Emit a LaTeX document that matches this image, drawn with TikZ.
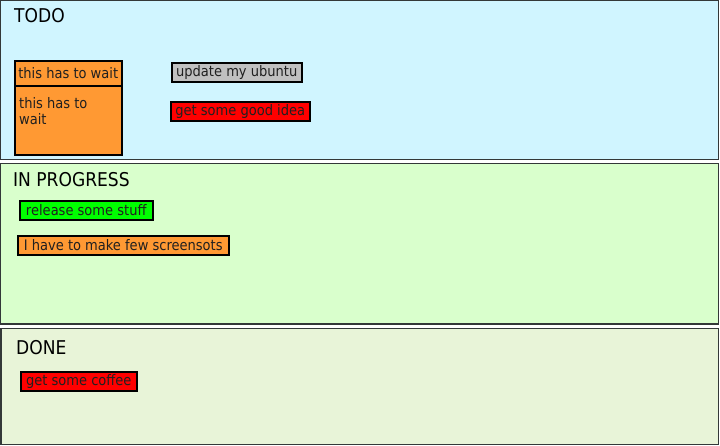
\documentclass[tikz,border=0pt]{standalone}
\usepackage{fontspec}
\setmainfont{DejaVu Sans Condensed}
\definecolor{todofill}{HTML}{D0F5FF}
\definecolor{progfill}{HTML}{D9FFCC}
\definecolor{donefill}{HTML}{E8F4D8}
\definecolor{panelborder}{HTML}{333838}
\definecolor{cardorange}{HTML}{FF9933}
\definecolor{cardgray}{HTML}{C0C0C0}
\definecolor{cardred}{HTML}{FF0000}
\definecolor{cardgreen}{HTML}{00FF00}
\definecolor{cardtext}{HTML}{202020}
\tikzset{
  panel/.style={draw=panelborder, line width=1.3pt},
  paneltitle/.style={anchor=base west, inner sep=0pt, font=\fontsize{19}{22}\selectfont},
  card/.style={draw=black, line width=1.5pt, anchor=north west, inner sep=0pt,
    font=\fontsize{14.5}{16.5}\selectfont, text=cardtext},
}
\begin{document}
\begin{tikzpicture}[x=1pt,y=-1pt]
\useasboundingbox (0,0) rectangle (720,445);
% panels
\draw[panel, fill=todofill] (0.7,0.7) rectangle (718.3,159.5);
\draw[panel, fill=progfill] (0.7,163.3) rectangle (718.3,324);
\draw[panel, fill=donefill] (1,328.5) rectangle (718.3,444.3);
\node[paneltitle] (tTodo) at (14,22) {TODO};
\node[paneltitle] (tProg) at (13,186) {IN PROGRESS};
\node[paneltitle] (tDone) at (16,354.5) {DONE};
% TODO cards
\node[card, fill=cardorange, minimum width=107pt, minimum height=25pt] (waitHead) at (14,60) {this has to wait};
\node[card, fill=cardorange, minimum width=107pt, minimum height=69pt] (waitBody) at (14,85) {};
\node[anchor=north west, inner sep=0pt, align=left, font=\fontsize{14.5}{16.5}\selectfont, text=cardtext] (waitText) at (19,97) {this has to\\wait};
\node[card, fill=cardgray, minimum width=130pt, minimum height=19pt] (ubuntu) at (171,62) {update my ubuntu};
\node[card, fill=cardred, minimum width=139pt, minimum height=19pt] (idea) at (170,101) {get some good idea};
% IN PROGRESS cards
\node[card, fill=cardgreen, minimum width=133pt, minimum height=19pt] (release) at (19,200) {release some stuff};
\node[card, fill=cardorange, minimum width=211pt, minimum height=19pt] (screens) at (17,235) {I have to make few screensots};
% DONE cards
\node[card, fill=cardred, minimum width=116pt, minimum height=19pt] (coffee) at (20,371) {get some coffee};
\end{tikzpicture}
\end{document}
